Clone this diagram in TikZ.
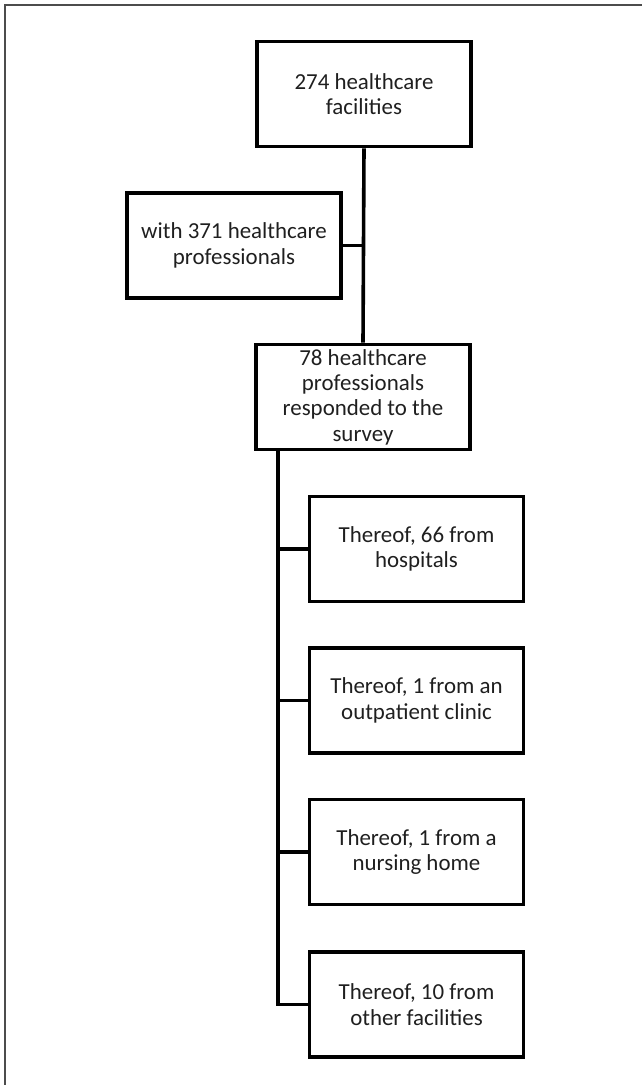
\documentclass[tikz,border=0pt]{standalone}
\usepackage{fontspec}
\setmainfont{Carlito}
\begin{document}
\begin{tikzpicture}[x=1bp,y=-1bp,
  box/.style={draw=black, line width=3.6bp, rectangle, minimum width=214bp, minimum height=105bp,
    align=center, inner sep=2bp, text=black!88,
    font=\fontsize{23}{25.5}\selectfont},
  conn/.style={draw=black, line width=3.6bp}]
\useasboundingbox (0,0) rectangle (642,1085);
\draw[line width=1.5bp, draw=black!70] (5,1085) -- (5,5) -- (642,5);
\node[box] (b1) at (364,94) {274 healthcare\\facilities};
\node[box] (b2) at (234,245.5) {with 371 healthcare\\professionals};
\node[box] (b3) at (363,397) {78 healthcare\\professionals\\responded to the\\survey};
\node[box] (b4) at (416.5,549) {Thereof, 66 from\\hospitals};
\node[box] (b5) at (416.5,700.5) {Thereof, 1 from an\\outpatient clinic};
\node[box] (b6) at (416.5,852) {Thereof, 1 from a\\nursing home};
\node[box] (b7) at (416.5,1004.5) {Thereof, 10 from\\other facilities};
\coordinate (t) at (278,451);
\draw[conn] (b1.south) -- (b3.north);
\draw[conn] (b2.east) -- (b2.east -| b1.south);
\draw[conn] (b3.south -| t) -- (t |- b7.west) -- (b7.west);
\draw[conn] (t |- b4.west) -- (b4.west);
\draw[conn] (t |- b5.west) -- (b5.west);
\draw[conn] (t |- b6.west) -- (b6.west);
\end{tikzpicture}
\end{document}
